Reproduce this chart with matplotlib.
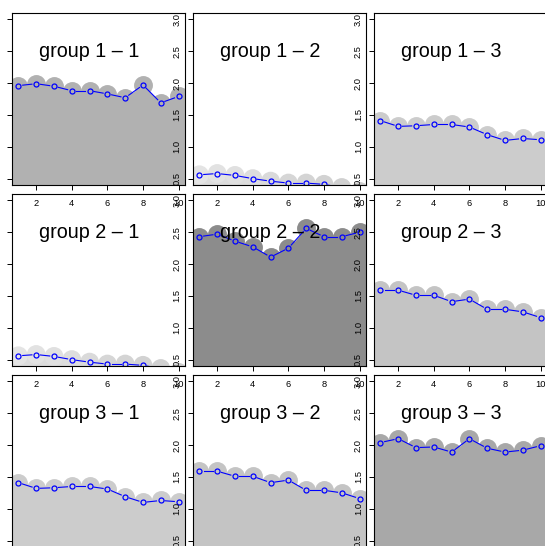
import numpy as np
import matplotlib
matplotlib.use('Agg')
import matplotlib.pyplot as plt

plt.rcParams['font.family'] = ['Liberation Sans', 'DejaVu Sans']

# values, one series per (row, col) pair;
# the matrix is symmetric so 2-1 = 1-2 etc.
x = [1, 2, 3, 4, 5, 6, 7, 8, 9, 10]
g11 = [1.96, 1.99, 1.95, 1.88, 1.88, 1.83, 1.77, 1.97, 1.69, 1.79]
g12 = [0.56, 0.58, 0.55, 0.50, 0.46, 0.43, 0.43, 0.41, 0.36, 0.30]
g13 = [1.41, 1.32, 1.33, 1.35, 1.35, 1.31, 1.19, 1.10, 1.13, 1.11]
g22 = [2.43, 2.47, 2.36, 2.27, 2.11, 2.25, 2.56, 2.43, 2.43, 2.50]
g23 = [1.59, 1.59, 1.51, 1.51, 1.41, 1.45, 1.29, 1.29, 1.25, 1.16]
g33 = [2.04, 2.10, 1.96, 1.97, 1.89, 2.10, 1.95, 1.89, 1.92, 1.99]

series = {(1, 1): g11, (1, 2): g12, (1, 3): g13,
          (2, 1): g12, (2, 2): g22, (2, 3): g23,
          (3, 1): g13, (3, 2): g23, (3, 3): g33}

yticks = [0.5, 1.0, 1.5, 2.0, 2.5, 3.0]
xticks = [2, 4, 6, 8, 10]

# panel greys
fills = {(1, 1): '#b1b1b1', (1, 2): '#dcdcdc', (1, 3): '#cccccc',
         (2, 1): '#dcdcdc', (2, 2): '#8c8c8c', (2, 3): '#c4c4c4',
         (3, 1): '#cccccc', (3, 2): '#c4c4c4', (3, 3): '#a8a8a8'}
# the low panels have circles shading from light to darker
light = ['#e4e4e4', '#e2e2e2', '#e0e0e0', '#dddddd', '#dadada',
         '#d6d6d6', '#d4d4d4', '#d2d2d2', '#d0d0d0', '#cecece']

W, H = 545, 546
DPI = 100
fig = plt.figure(figsize=(W / DPI, H / DPI), dpi=DPI)

lefts = [12, 193, 374]
tops = [13, 194, 375]
pw, ph = 173, 172
gap = 4.3  # px, gap between line and marker (type="b")

for i in range(3):
    for j in range(3):
        key = (i + 1, j + 1)
        y = series[key]
        ax = fig.add_axes([lefts[j] / W, 1 - (tops[i] + ph) / H, pw / W, ph / H])
        ax.set_facecolor('none')
        ax.set_xlim(0.64, 10.36)
        ax.set_ylim(0.4, 3.1)

        col = fills[key]
        px = [0] + x + [11]
        py = [y[0]] + y + [y[-1]]
        ax.fill_between(px, py, 0, color=col, lw=0, zorder=1)
        ccol = light if key in [(1, 2), (2, 1)] else col
        ax.scatter(x, y, s=185, c=ccol, linewidths=0, zorder=2)

        # line segments with gaps around the markers
        pts = ax.transData.transform(np.column_stack([x, y]))
        inv = ax.transData.inverted()
        for k in range(len(x) - 1):
            p0, p1 = pts[k], pts[k + 1]
            d = p1 - p0
            L = np.hypot(d[0], d[1])
            if L <= 2 * gap:
                continue
            u = d / L
            a = inv.transform(p0 + u * gap)
            b = inv.transform(p1 - u * gap)
            ax.plot([a[0], b[0]], [a[1], b[1]], color='blue', lw=0.8, zorder=3)
        ax.plot(x, y, ls='none', marker='o', ms=3.6, mfc='none', mec='blue',
                mew=0.9, zorder=4)

        ax.text(5, 2.5, 'group %d \u2013 %d' % key, ha='center', va='center',
                fontsize=14.2, zorder=5)

        ax.set_xticks(xticks)
        ax.set_yticks(yticks)
        ax.set_yticklabels(['%.1f' % v for v in yticks])
        ax.tick_params(axis='x', direction='out', length=3.6, width=0.7,
                       pad=6.5, labelsize=6.7)
        ax.tick_params(axis='y', direction='out', length=3.6, width=0.7,
                       pad=4.5, labelsize=6.7, labelrotation=90)
        for lab in ax.get_yticklabels():
            lab.set_va('center')
        for s in ax.spines.values():
            s.set_linewidth(0.8)
            s.set_zorder(6)

fig.savefig('out.png', dpi=DPI)
